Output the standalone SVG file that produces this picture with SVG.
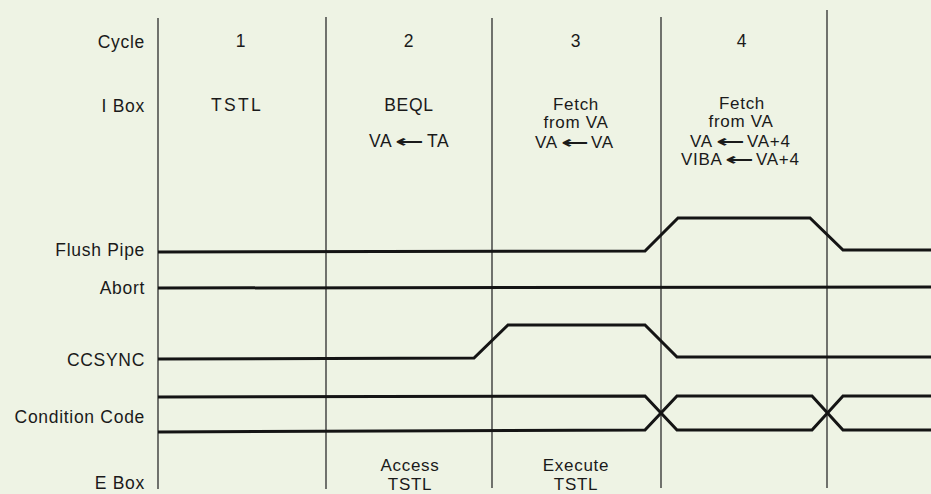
<svg xmlns="http://www.w3.org/2000/svg" width="931" height="494" viewBox="0 0 931 494">
  <style>
    text { font-family: "Liberation Sans", Arial, Helvetica, sans-serif; font-size: 17.5px; fill: #1a1a1a; letter-spacing: 0.7px; }
    .lbl { text-anchor: end; }
    .mid { text-anchor: middle; }
    .st { font-size: 17px; }
    .arr { font-family: "DejaVu Sans", sans-serif; font-weight: bold; font-size: 17px; letter-spacing: 0; }
    .grid { stroke: #3a3a3a; stroke-width: 1.4; fill: none; }
    .wave { stroke: #141414; stroke-width: 3; fill: none; stroke-linejoin: miter; }
  </style>
  <rect width="931" height="494" fill="#eef3e4"/>

  <g id="gridlines">
    <line class="grid" x1="158" y1="18" x2="158" y2="489"/>
    <line class="grid" x1="326" y1="17" x2="326" y2="489"/>
    <line class="grid" x1="492" y1="18" x2="492" y2="488"/>
    <line class="grid" x1="661" y1="17" x2="661" y2="488"/>
    <line class="grid" x1="827" y1="10" x2="827" y2="488"/>
  </g>

  <g id="row-labels">
    <text class="lbl" x="145" y="48">Cycle</text>
    <text class="lbl" x="145" y="112">I Box</text>
    <text class="lbl" x="145" y="256">Flush Pipe</text>
    <text class="lbl" x="145" y="294">Abort</text>
    <text class="lbl" x="145" y="366">CCSYNC</text>
    <text class="lbl" x="145" y="423">Condition Code</text>
    <text class="lbl" x="145" y="489">E Box</text>
  </g>

  <g id="cycle-1">
    <text class="mid" x="241" y="47">1</text>
    <text class="mid" x="237" y="111" style="letter-spacing:2.3px">TSTL</text>
  </g>

  <g id="cycle-2">
    <text class="mid" x="409" y="47">2</text>
    <text class="mid" x="409" y="111">BEQL</text>
    <text y="147"><tspan x="369">VA</tspan><tspan class="arr" x="395" textLength="29" lengthAdjust="spacingAndGlyphs">←</tspan><tspan x="427">TA</tspan></text>
    <text class="mid st" x="410" y="471">Access</text>
    <text class="mid st" x="410" y="490">TSTL</text>
  </g>

  <g id="cycle-3">
    <text class="mid" x="576" y="47">3</text>
    <text class="mid st" x="576" y="110">Fetch</text>
    <text class="mid st" x="576" y="128">from VA</text>
    <text class="st" y="147.5"><tspan x="535">VA</tspan><tspan class="arr" x="561" textLength="28" lengthAdjust="spacingAndGlyphs">←</tspan><tspan x="591">VA</tspan></text>
    <text class="mid st" x="576" y="471">Execute</text>
    <text class="mid st" x="576" y="490">TSTL</text>
  </g>

  <g id="cycle-4">
    <text class="mid" x="742" y="47">4</text>
    <text class="mid st" x="742" y="109">Fetch</text>
    <text class="mid st" x="741" y="127">from VA</text>
    <text class="st" y="146.5"><tspan x="690">VA</tspan><tspan class="arr" x="716" textLength="29" lengthAdjust="spacingAndGlyphs">←</tspan><tspan x="747">VA+4</tspan></text>
    <text class="st" y="165"><tspan x="681">VIBA</tspan><tspan class="arr" x="725" textLength="29" lengthAdjust="spacingAndGlyphs">←</tspan><tspan x="756">VA+4</tspan></text>
  </g>

  <g id="waveforms">
    <path id="flush-pipe" class="wave" d="M158,252 L645,251 L678,218 L810,218 L843,250 L931,250"/>
    <path id="abort" class="wave" d="M158,288 L931,287"/>
    <path id="ccsync" class="wave" d="M158,359 L474,358 L508,325 L645,325 L677,357 L931,357"/>
    <path id="cc-a" class="wave" d="M158,397 L645,396 L677,430 L812,430 L843,396 L931,396"/>
    <path id="cc-b" class="wave" d="M158,432 L645,430 L677,396 L812,396 L843,430 L931,430"/>
  </g>
</svg>
